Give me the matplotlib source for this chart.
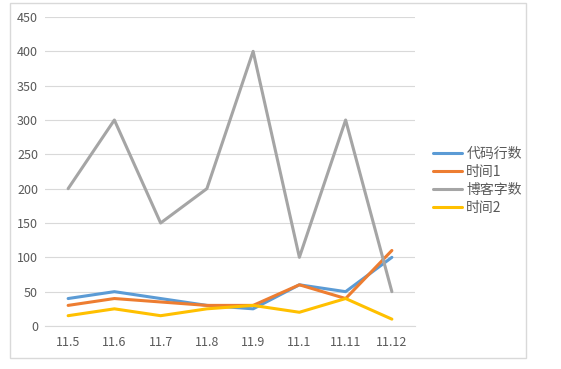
import matplotlib.pyplot as plt
from matplotlib.patches import Rectangle

plt.rcParams['font.family'] = ['Noto Sans CJK SC', 'DejaVu Sans']

# data
dates = ['11.5', '11.6', '11.7', '11.8', '11.9', '11.1', '11.11', '11.12']
code_lines = [40, 50, 40, 30, 25, 60, 50, 100]
time1 = [30, 40, 35, 30, 30, 60, 40, 110]
blog_words = [200, 300, 150, 200, 400, 100, 300, 50]
time2 = [15, 25, 15, 25, 30, 20, 40, 10]

series = [
    ('代码行数', code_lines, '#5B9BD5'),
    ('时间1', time1, '#ED7D31'),
    ('博客字数', blog_words, '#A5A5A5'),
    ('时间2', time2, '#FFC000'),
]

W, H = 561, 369
fig = plt.figure(figsize=(W / 100, H / 100), dpi=100)

# chart-area border like Excel
fig.patches.append(Rectangle((10 / W, 1 - 358 / H), (526 - 10) / W, (358 - 3) / H,
                             transform=fig.transFigure, fill=False,
                             edgecolor='#D9D9D9', linewidth=1))

ax = fig.add_axes([45 / W, 1 - 326 / H, (415 - 45) / W, (326 - 17) / H])
x = list(range(len(dates)))
for name, vals, color in series:
    ax.plot(x, vals, color=color, linewidth=2.2, label=name, solid_capstyle='round')

ax.set_xlim(-0.5, len(dates) - 0.5)
ax.set_ylim(0, 450)
ax.set_yticks(range(0, 451, 50))
ax.set_xticks(x)
ax.set_xticklabels(dates)
ax.grid(axis='y', color='#D9D9D9', linewidth=0.8)
ax.set_axisbelow(True)
for s in ['top', 'right', 'left']:
    ax.spines[s].set_visible(False)
ax.spines['bottom'].set_color('#D9D9D9')
ax.tick_params(length=0, labelsize=9, labelcolor='#595959')
ax.tick_params(axis='x', pad=7)
ax.tick_params(axis='y', pad=5)

ax.legend(loc='center left', bbox_to_anchor=(433 / W, 1 - 181 / H),
          bbox_transform=fig.transFigure, frameon=False, fontsize=10,
          handlelength=2.1, handletextpad=0.3, labelspacing=0.3,
          labelcolor='#595959', borderaxespad=0, borderpad=0)

fig.savefig('out.png', dpi=100)
